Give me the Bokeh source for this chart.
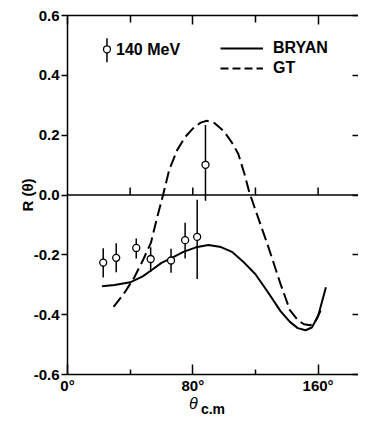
from bokeh.plotting import figure
from bokeh.models import (LinearAxis, FixedTicker, Span, Label, Legend, LegendItem, Range1d)
from bokeh.embed import file_html
from bokeh.resources import INLINE

# ---------------- data ----------------
ANGLE = [22.8, 31.1, 43.9, 53.1, 66.1, 75.1, 82.8, 88.1]
R_VAL = [-0.226, -0.210, -0.177, -0.214, -0.219, -0.151, -0.140, 0.101]
R_LO = [-0.276, -0.258, -0.212, -0.257, -0.260, -0.212, -0.281, -0.019]
R_HI = [-0.178, -0.161, -0.145, -0.175, -0.180, -0.093, -0.016, 0.234]

BRYAN_X = [22, 30, 40, 48, 54, 60, 66, 74, 82, 90, 98, 105, 112, 120, 128, 136, 142, 147, 152, 156, 160, 165]
BRYAN_Y = [-0.305, -0.301, -0.292, -0.272, -0.250, -0.227, -0.212, -0.190, -0.175, -0.167, -0.174, -0.190,
           -0.222, -0.265, -0.325, -0.388, -0.424, -0.445, -0.452, -0.443, -0.405, -0.308]

GT_X = [29.4, 36, 42.6, 48, 53.3, 57, 61, 65, 70, 75, 80, 85, 89, 94, 100, 105, 109, 113, 116, 120,
        128, 136, 142, 147, 151, 155, 158, 162]
GT_Y = [-0.374, -0.330, -0.276, -0.220, -0.159, -0.080, 0.0, 0.085, 0.150, 0.193, 0.222, 0.242, 0.248,
        0.240, 0.212, 0.175, 0.138, 0.070, 0.011, -0.050, -0.170, -0.297, -0.385, -0.418, -0.432,
        -0.435, -0.425, -0.382]

XTICKS_MAJOR = [0, 80, 160]
XTICKS_MINOR = [40, 120]
XTICK_LABELS = {0: "0°", 80: "80°", 160: "160°"}
ZERO_TICKS = [40, 80, 120, 160]
YTICKS = [-0.6, -0.4, -0.2, 0, 0.2, 0.4, 0.6]
YTICK_LABELS = ["-0.6", "-0.4", "-0.2", "0.0", "0.2", "0.4", "0.6"]
X_TITLE = "θ"
X_TITLE_SUB = "c.m"
X_TITLE_AT = 80.3
Y_TITLE = "R (θ)"
KEY_LABEL = "140 MeV"

FONT = "Liberation Sans"
NAN = float("nan")

p = figure(width=358, height=419, x_range=Range1d(0, 185.8), y_range=Range1d(-0.6, 0.6),
           output_backend="svg", toolbar_location=None,
           x_axis_location=None, y_axis_location=None,
           min_border_left=67, min_border_right=0, min_border_top=15, min_border_bottom=41)
p.outline_line_color = None
p.grid.visible = False
p.background_fill_color = "white"
p.border_fill_color = "white"

# bottom axis
xb = LinearAxis(ticker=FixedTicker(ticks=XTICKS_MAJOR, minor_ticks=XTICKS_MINOR),
                major_label_overrides=XTICK_LABELS,
                major_tick_in=10, major_tick_out=0, minor_tick_in=5, minor_tick_out=0,
                axis_line_width=1.5, major_tick_line_width=1.5, minor_tick_line_width=1.5,
                major_label_standoff=2, major_label_text_font=FONT,
                major_label_text_font_size="15px", major_label_text_font_style="bold",
                major_label_text_color="black")
p.add_layout(xb, "below")

# x title: theta as a label of a bare axis, "c.m" as that axis' title (subscript)
xb2 = LinearAxis(ticker=FixedTicker(ticks=[X_TITLE_AT], minor_ticks=[]),
                 major_label_overrides={X_TITLE_AT: X_TITLE},
                 axis_line_color=None, major_tick_line_color=None, minor_tick_line_color=None,
                 major_tick_in=0, major_tick_out=0,
                 major_label_standoff=-2, major_label_text_font=FONT,
                 major_label_text_font_size="16px", major_label_text_font_style="italic",
                 major_label_text_color="black",
                 axis_label=X_TITLE_SUB, axis_label_standoff=-14, axis_label_text_font=FONT,
                 axis_label_text_font_size="14px", axis_label_text_font_style="bold",
                 axis_label_text_color="black")
p.add_layout(xb2, "below")

# top axis
xt = LinearAxis(ticker=FixedTicker(ticks=XTICKS_MAJOR, minor_ticks=XTICKS_MINOR),
                major_label_overrides={t: "" for t in XTICKS_MAJOR},
                major_tick_in=9, major_tick_out=0, minor_tick_in=7, minor_tick_out=0,
                axis_line_width=1.5, axis_line_color="black",
                major_tick_line_width=1.5, minor_tick_line_width=1.5,
                major_label_text_font_size="1px", major_label_text_color=None,
                major_label_standoff=0)
p.add_layout(xt, "above")

# left axis
yl = LinearAxis(ticker=FixedTicker(ticks=YTICKS, minor_ticks=[]),
                major_label_overrides=dict(zip(YTICKS, YTICK_LABELS)),
                major_tick_out=6, major_tick_in=0,
                axis_line_width=1.5, major_tick_line_width=1.5,
                major_label_standoff=2, major_label_text_font=FONT,
                major_label_text_font_size="15px", major_label_text_font_style="bold",
                major_label_text_color="black",
                axis_label=Y_TITLE, axis_label_text_font=FONT, axis_label_text_font_size="15px",
                axis_label_text_font_style="bold", axis_label_standoff=-5,
                axis_label_text_color="black")
p.add_layout(yl, "left")

# right axis (only inward ticks)
yr = LinearAxis(ticker=FixedTicker(ticks=YTICKS, minor_ticks=[]),
                major_label_overrides={t: "" for t in YTICKS},
                major_tick_out=0, major_tick_in=6, axis_line_color=None,
                major_tick_line_width=1.5,
                major_label_text_font_size="1px", major_label_text_color=None,
                major_label_standoff=0)
p.add_layout(yr, "right")

# zero line with ticks
p.add_layout(Span(location=0, dimension="width", line_color="black", line_width=1.5))
p.segment(x0=ZERO_TICKS, y0=[0] * len(ZERO_TICKS), x1=ZERO_TICKS, y1=[0.025] * len(ZERO_TICKS),
          line_color="black", line_width=1.5)

# theory curves
p.line(BRYAN_X, BRYAN_Y, line_color="black", line_width=2)
p.line(GT_X, GT_Y, line_color="black", line_width=2, line_dash="12 5")

# data with error bars
p.segment(x0=ANGLE, y0=R_LO, x1=ANGLE, y1=R_HI, line_color="black", line_width=1.5)
p.scatter(ANGLE, R_VAL, size=7, marker="circle", fill_color="white", line_color="black", line_width=1.3)

# legend for curves
leg_b = p.line(x=[NAN], y=[NAN], line_color="black", line_width=2)
leg_g = p.line(x=[NAN], y=[NAN], line_color="black", line_width=2, line_dash="8 4")
legend = Legend(items=[LegendItem(label="BRYAN", renderers=[leg_b]),
                       LegendItem(label="GT", renderers=[leg_g])],
                location=(153, 296), glyph_width=43, glyph_height=20, label_height=20,
                label_standoff=10, spacing=0, padding=0, margin=0,
                border_line_color=None, background_fill_alpha=0,
                label_text_font=FONT, label_text_font_size="16px", label_text_font_style="bold",
                label_text_color="black")
p.add_layout(legend)

# data key "140 MeV"
KEY_X, KEY_Y, KEY_LO, KEY_HI = 25.2, 0.487, 0.444, 0.524
p.segment(x0=[KEY_X], y0=[KEY_LO], x1=[KEY_X], y1=[KEY_HI], line_color="black", line_width=1.5)
p.scatter([KEY_X], [KEY_Y], size=7, marker="circle", fill_color="white", line_color="black", line_width=1.3)
p.add_layout(Label(x=31, y=KEY_Y, text=KEY_LABEL, text_baseline="middle", text_font=FONT,
                   text_font_size="16px", text_font_style="bold", text_color="black"))

open("out.html", "w").write(file_html(p, INLINE))
